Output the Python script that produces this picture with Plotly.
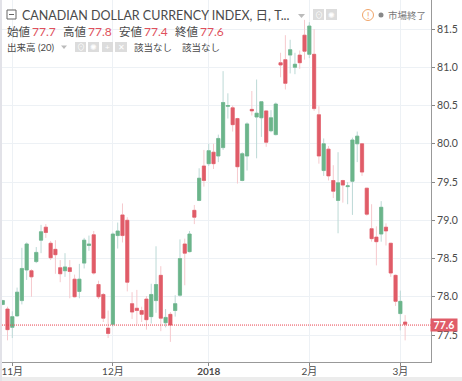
import plotly.graph_objects as go

opens = [77.90,77.84,77.60,77.75,77.95,78.35,78.34,78.46,78.74,78.91,78.70,78.62,78.38,78.34,78.38,78.23,78.07,78.44,78.67,78.81,78.16,78.03,77.59,77.64,78.80,79.07,79.00,77.91,77.85,77.82,77.97,
         77.74,77.95,78.28,77.66,77.77,77.82,78.02,78.69,78.59,79.13,79.26,79.71,79.74,79.89,79.84,79.95,80.49,80.47,80.33,79.52,79.84,80.45,80.35,80.34,80.43,80.17,80.12,
         81.06,81.10,81.16,81.00,81.16,81.42,81.17,81.17,80.38,79.65,79.93,79.52,79.26,79.52,79.44,79.51,80.00,80.00,79.42,78.89,78.78,78.82,78.91,78.70,78.28,77.78,77.67]
closes = [77.95,77.57,77.74,78.06,78.37,78.69,78.26,78.58,78.85,78.84,78.51,78.55,78.30,78.39,78.33,78.00,78.23,78.74,78.69,78.31,78.00,77.72,77.52,78.82,78.86,78.80,78.19,77.80,77.82,77.77,77.70,
          78.03,78.16,77.72,77.73,77.63,77.91,78.50,78.57,78.82,79.04,79.55,79.52,79.91,79.74,80.07,80.54,80.50,80.25,79.70,79.87,80.26,80.43,80.40,80.55,80.02,80.34,80.52,
          81.03,80.79,81.23,81.04,81.06,81.21,81.54,80.46,79.84,80.00,79.58,79.38,79.49,79.46,79.45,80.05,80.10,79.63,79.08,78.76,78.72,79.17,78.86,78.31,77.94,77.94,77.64]
highs = [77.96,77.87,77.81,78.12,78.64,78.71,78.36,78.65,78.94,78.95,78.73,78.74,78.48,78.57,78.48,78.29,78.43,78.77,78.80,78.86,78.21,78.05,77.82,78.84,78.97,79.22,79.04,78.06,78.09,77.87,78.01,
         78.17,78.66,78.40,77.84,77.80,78.02,78.75,78.76,78.86,79.20,79.68,79.92,80.00,80.00,80.12,80.95,80.66,80.50,80.34,79.89,80.28,80.69,80.84,80.55,80.44,80.44,80.54,
         81.19,81.42,81.36,81.19,81.22,81.62,81.59,81.50,80.49,80.07,79.97,79.72,79.89,79.53,79.50,80.08,80.16,80.00,79.42,79.21,78.92,79.25,78.96,78.70,78.29,78.08,77.76]
lows = [77.89,77.43,77.46,77.74,77.90,78.22,78.00,78.44,78.57,78.77,78.48,78.30,78.19,78.26,77.98,77.99,77.98,78.37,78.60,78.29,77.97,77.67,77.46,77.61,78.63,78.71,78.07,77.71,77.64,77.67,77.57,
        77.65,77.79,77.55,77.60,77.41,77.74,78.00,78.15,78.58,78.95,79.25,79.44,79.71,79.67,79.76,79.92,80.33,80.16,79.48,79.51,79.65,80.37,79.81,80.09,79.96,80.15,80.11,
        80.87,80.71,80.92,80.91,80.98,81.10,81.12,80.43,79.74,79.58,79.52,79.29,78.83,79.23,79.21,79.07,79.76,79.58,79.06,78.72,78.41,78.72,78.67,78.26,77.88,77.56,77.43]
candles = list(range(len(opens)))
tick_positions = [2, 23, 43, 64, 83]
tick_labels = ["11月", "12月", "<b>2018</b>", "2月", "3月"]
y_ticks = [77.5, 78.0, 78.5, 79.0, 79.5, 80.0, 80.5, 81.0, 81.5]
last_price = 77.63

W, H = 462, 381
GREEN, RED = "#6bb58a", "#e05c68"
GRID = "#edf1f5"
TXT = "#4a4a4a"
FONT = "Lato, 'Noto Sans CJK JP', sans-serif"
px = lambda v: v / W
py = lambda v: 1 - v / H

fig = go.Figure()
fig.add_trace(go.Candlestick(
    x=candles, open=opens, high=highs, low=lows, close=closes, whiskerwidth=0,
    increasing=dict(line=dict(color="#bcd9d6", width=1), fillcolor=GREEN),
    decreasing=dict(line=dict(color="#f6c9cd", width=1), fillcolor=RED),
    hoverinfo="skip", showlegend=False))
fig.add_trace(go.Candlestick(
    x=candles, open=opens, close=closes, whiskerwidth=0,
    high=[max(o, c) for o, c in zip(opens, closes)],
    low=[min(o, c) for o, c in zip(opens, closes)],
    increasing=dict(line=dict(color=GREEN, width=0.6), fillcolor=GREEN),
    decreasing=dict(line=dict(color=RED, width=0.6), fillcolor=RED),
    hoverinfo="skip", showlegend=False))

shapes = [
    dict(type="rect", xref="paper", yref="paper", x0=0, x1=px(2), y0=0, y1=1,
         fillcolor="#e2e2e8", line_width=0, layer="above"),
    dict(type="rect", xref="paper", yref="paper", x0=0, x1=1, y0=0, y1=py(377),
         fillcolor="#ececec", line_width=0, layer="below"),
    dict(type="line", xref="x", yref="y", x0=-0.15, x1=89.4, y0=last_price, y1=last_price,
         line=dict(color="#e8404e", width=1, dash="1px,1px"), layer="above"),
    dict(type="rect", xref="paper", yref="paper", x0=px(7), x1=px(16), y0=py(19), y1=py(10),
         line=dict(color="#666", width=1), fillcolor="white", layer="above"),
    dict(type="line", xref="paper", yref="paper", x0=px(9), x1=px(14), y0=py(14.5), y1=py(14.5),
         line=dict(color="#666", width=1), layer="above"),
    dict(type="circle", xref="paper", yref="paper", x0=px(362.5), x1=px(373.5), y0=py(20.5), y1=py(9.5),
         line=dict(color="#f0a468", width=1), layer="above"),
    dict(type="circle", xref="paper", yref="paper", x0=px(378.5), x1=px(383.5), y0=py(17.5), y1=py(12.5),
         fillcolor="#888", line_width=0, layer="above"),
    dict(type="path", xref="paper", yref="paper",
         path=f"M {px(298)} {py(14)} L {px(305)} {py(14)} L {px(301.5)} {py(18)} Z",
         fillcolor="#bbb", line_width=0, layer="above"),
    dict(type="path", xref="paper", yref="paper",
         path=f"M {px(61)} {py(45.5)} L {px(67)} {py(45.5)} L {px(64)} {py(49)} Z",
         fillcolor="#bbb", line_width=0, layer="above"),
]
icon_boxes = [(75, 86, 42, 52, "⊙"), (88, 99, 42, 52, "✺"), (102, 113, 42, 52, "+"), (115, 127, 42, 52, "✕"),
              (313, 324, 9, 20, "⊙"), (326, 337, 9, 20, "✺")]
annotations = []
def label(x, y, text, size=12, color=TXT, anchor="left", family=FONT, **kw):
    annotations.append(dict(xref="paper", yref="paper", x=px(x), y=py(y), text=text, showarrow=False,
                            xanchor=anchor, yanchor="middle", align=anchor, borderpad=0,
                            font=dict(size=size, color=color, family=family), **kw))
for x0, x1, y0, y1, g in icon_boxes:
    shapes.append(dict(type="rect", xref="paper", yref="paper", x0=px(x0), x1=px(x1), y0=py(y1), y1=py(y0),
                       fillcolor="#dcdcdc", line_width=0, layer="above"))
    label((x0 + x1) / 2, (y0 + y1) / 2, g, size=8, color="white", anchor="center")

label(21, 15, "CANADIAN DOLLAR CURRENCY INDEX,&nbsp;日,&nbsp;T...", size=12.5)
for x, t, v in [(6, "始値", "77.7"), (62, "高値", "77.8"), (118, "安値", "77.4"), (174, "終値", "77.6")]:
    label(x, 31, t, size=11.5)
    label(x + 25, 31, v, size=12, color="#e0505c")
label(6, 47, "出来高 (20)", size=9.5)
label(133, 47, "該当なし", size=9.5)
label(181, 47, "該当なし", size=9.5)
label(368, 15, "!", size=9, color="#f0a468", anchor="center")
label(387, 15, "市場終了", size=9.5, color="#777")
annotations.append(dict(xref="paper", yref="y", x=px(444), y=last_price, text="<b>77.6</b>", showarrow=False,
                        xanchor="center", yanchor="middle", width=26, height=12, borderpad=0, bgcolor="#e05c68",
                        font=dict(size=10.5, color="white", family=FONT)))

fig.update_layout(
    width=W, height=H, margin=dict(l=0, r=0, t=0, b=0), paper_bgcolor="white", plot_bgcolor="white",
    boxgap=0.05, boxmode="overlay", showlegend=False, shapes=shapes, annotations=annotations,
    xaxis=dict(domain=[px(2), px(431)], range=[-0.15, 89.4], rangeslider_visible=False, tickmode="array",
               tickvals=tick_positions, ticktext=tick_labels, ticks="outside", ticklen=3, tickcolor="#888",
               ticklabelstandoff=-3,
               tickfont=dict(size=10, color=TXT, family=FONT), showgrid=True, gridcolor=GRID, gridwidth=1,
               showline=True, linecolor="#999", linewidth=1, zeroline=False, fixedrange=True),
    yaxis=dict(domain=[py(362), 1], range=[77.147, 81.88], side="right", tickmode="array", tickvals=y_ticks,
               ticktext=[f"{v:.1f}" for v in y_ticks], ticks="outside", ticklen=3, tickcolor="#888",
               tickfont=dict(size=10.5, color=TXT, family=FONT), showgrid=True, gridcolor=GRID, gridwidth=1,
               showline=True, linecolor="#999", linewidth=1, zeroline=False, fixedrange=True),
)
fig.write_html("out.html", post_script="document.body.style.margin='0';", config=dict(displayModeBar=False))
